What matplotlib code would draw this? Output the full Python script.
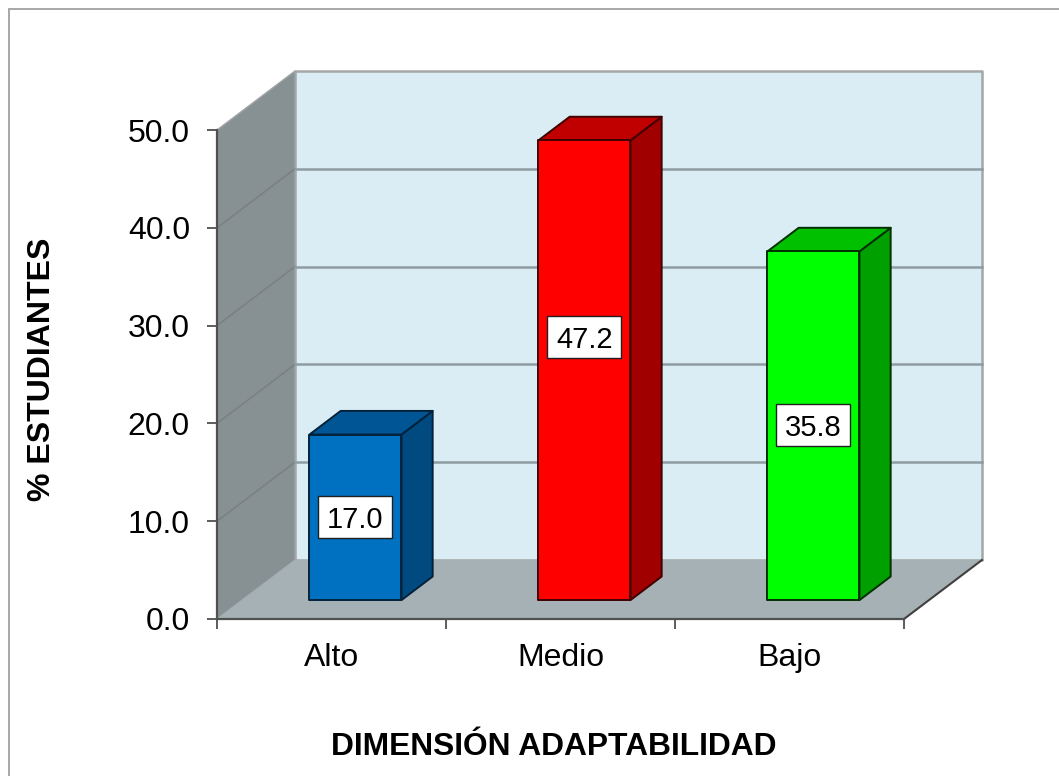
import matplotlib
matplotlib.use('Agg')
from matplotlib import pyplot as plt
from matplotlib.patches import Polygon, Rectangle

categories = ['Alto', 'Medio', 'Bajo']
values = [17.0, 47.2, 35.8]
# the label of Medio was moved by hand in the original, so not at half height
label_heights = [8.5, 26.9, 17.9]
front_colors = ['#0070c0', '#ff0000', '#00ff00']
top_colors = ['#005694', '#c00000', '#00c000']
side_colors = ['#004a80', '#a00000', '#00a000']
edge_colors = ['#02223c', '#400000', '#003000']
yticks = [0, 10, 20, 30, 40, 50]

W, H = 1059, 776
# front plane of the chart in pixels
LEFT, RIGHT, TOP, BOTTOM = 217, 904, 130, 619
PX_X = (RIGHT - LEFT) / 3
PX_Y = (BOTTOM - TOP) / 50
# depth of the 3d box, in data units
DX = 78 / PX_X
DY = 59 / PX_Y
BAR_W = 92 / PX_X
BAR_SHIFT = -1 / PX_X
BAR_D0, BAR_D1 = 0.32, 0.72
BAR_SCALE = 0.996


def proj(x, v, d):
    return (x + d * DX, v + d * DY)


def face(ax, pts, color, edge='none', lw=0, z=1):
    ax.add_patch(Polygon(pts, closed=True, facecolor=color, edgecolor=edge, linewidth=lw,
                         zorder=z, clip_on=False, joinstyle='round'))


plt.rcParams['font.family'] = ['Liberation Sans', 'DejaVu Sans']

fig = plt.figure(figsize=(W / 100, H / 100), dpi=100)
ax = fig.add_axes([LEFT / W, 1 - BOTTOM / H, (RIGHT - LEFT) / W, (BOTTOM - TOP) / H])
ax.set_xlim(0, 3)
ax.set_ylim(0, 50)
ax.patch.set_visible(False)

# walls and floor
face(ax, [proj(0, 0, 1), proj(3, 0, 1), proj(3, 50, 1), proj(0, 50, 1)], '#daedf4', '#a6a6a6', 1.8, 1)
face(ax, [proj(0, 0, 0), proj(0, 0, 1), proj(0, 50, 1), proj(0, 50, 0)], '#879194', '#a0a6a8', 1.0, 2)
face(ax, [proj(0, 0, 0), proj(3, 0, 0), proj(3, 0, 1), proj(0, 0, 1)], '#a6b1b5', 'none', 0, 2)

# gridlines on the walls
for v in yticks[1:-1]:
    a, b, c = proj(0, v, 0), proj(0, v, 1), proj(3, v, 1)
    ax.plot([a[0], b[0]], [a[1], b[1]], color='#7b8083', lw=1.2, zorder=3, clip_on=False)
    ax.plot([b[0], c[0]], [b[1], c[1]], color='#8f9da2', lw=1.8, zorder=3, clip_on=False)

# floor outer edge
a, b = proj(3, 0, 0), proj(3, 0, 1)
ax.plot([a[0], b[0]], [a[1], b[1]], color='#404040', lw=1.5, zorder=4, clip_on=False)

# bars
for i, val in enumerate(values):
    x0 = i + 0.5 - BAR_W / 2 + BAR_SHIFT
    x1 = x0 + BAR_W
    top = val * BAR_SCALE
    edge = edge_colors[i]
    face(ax, [proj(x1, 0, BAR_D0), proj(x1, 0, BAR_D1), proj(x1, top, BAR_D1), proj(x1, top, BAR_D0)],
         side_colors[i], edge, 1.4, 5)
    face(ax, [proj(x0, top, BAR_D0), proj(x1, top, BAR_D0), proj(x1, top, BAR_D1), proj(x0, top, BAR_D1)],
         top_colors[i], edge, 1.4, 5)
    face(ax, [proj(x0, 0, BAR_D0), proj(x1, 0, BAR_D0), proj(x1, top, BAR_D0), proj(x0, top, BAR_D0)],
         front_colors[i], edge, 1.4, 6)
    # value label, fixed size box
    cx, cy = proj(i + 0.5 + BAR_SHIFT, label_heights[i], BAR_D0)
    bw, bh = 74 / PX_X, 42 / PX_Y
    ax.add_patch(Rectangle((cx - bw / 2, cy - bh / 2), bw, bh, facecolor='white', edgecolor='#202020',
                           linewidth=1.0, zorder=7, clip_on=False))
    ax.text(cx, cy, f'{val:.1f}', ha='center', va='center_baseline', fontsize=21, color='black', zorder=8)

# axes
for s in ['top', 'right']:
    ax.spines[s].set_visible(False)
for s in ['left', 'bottom']:
    ax.spines[s].set_color('#505050')
    ax.spines[s].set_linewidth(1.6)
    ax.spines[s].set_zorder(4)
ax.set_yticks(yticks)
ax.set_yticklabels([f'{v:.1f}' for v in yticks], fontsize=23)
ax.set_xticks(range(4))
ax.set_xticklabels([])
ax.set_xticks([0.5, 1.5, 2.5], minor=True)
ax.set_xticklabels(categories, minor=True, fontsize=23)
ax.tick_params(axis='y', length=7, width=1.1, color='#303030', pad=12.5)
ax.tick_params(axis='x', which='major', length=7.5, width=1.1, color='#303030')
ax.tick_params(axis='x', which='minor', length=0, pad=17)

fig.text(42.5 / W, 1 - 369 / H, '% ESTUDIANTES', rotation=90, ha='center', va='center',
         fontsize=23, fontweight='bold')
fig.text(554 / W, 1 - 747 / H, 'DIMENSIÓN ADAPTABILIDAD', ha='center', va='center',
         fontsize=22.9, fontweight='bold')

# chart frame, only top and left fall inside the picture
fig.add_artist(Rectangle((9 / W, -0.1), 1.2, 1.1 - 9.5 / H, transform=fig.transFigure, fill=False,
                         edgecolor='#a0a0a0', linewidth=1.3))

fig.savefig('out.png', dpi=100)
